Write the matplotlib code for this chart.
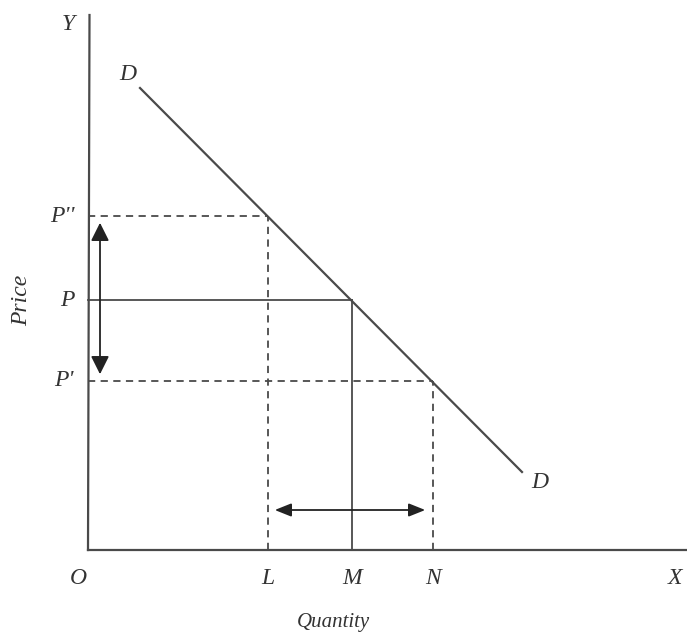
import matplotlib
matplotlib.use("Agg")
import matplotlib.pyplot as plt

# Data (units: quantity / price, origin at O)
demand_q = [5.2, 43.4]
demand_p = [46.2, 7.8]
prices = [33.4, 25.0, 16.9]          # P'', P, P'
quantities = [18.0, 26.4, 34.5]      # L, M, N
price_labels = ["P''", "P", "P'"]
qty_labels = ["L", "M", "N"]
price_styles = ["--", "-", "--"]

col = "#4a4a4a"
fig = plt.figure(figsize=(6.87, 6.36), dpi=100)
ax = fig.add_axes([0, 0, 1, 1])
ax.set_xlim(-8.8, 59.9)
ax.set_ylim(-8.6, 55.0)
ax.axis("off")

# Axes
ax.plot([0.15, 0], [53.5, 0], color=col, lw=1.6)
ax.plot([0, 59.9], [0, 0], color=col, lw=1.6)

# Demand curve
ax.plot(demand_q, demand_p, color=col, lw=1.6)

# Guide lines
for p, q, ls in zip(prices, quantities, price_styles):
    kw = dict(color=col, lw=1.3, ls=ls)
    if ls == "--":
        kw["dashes"] = (4, 3)
    ax.plot([0, q], [p, p], **kw)
    ax.plot([q, q], [0, p], **kw)

font = dict(family="Liberation Serif", style="italic", color="#333333", fontsize=17)

# Arrows
ax.annotate("", xy=(1.2, prices[0] - 0.4), xytext=(1.2, prices[2] + 0.4),
            arrowprops=dict(arrowstyle="<|-|>,head_length=0.5,head_width=0.25",
                            color="#222222", lw=1.3, mutation_scale=22))
ax.annotate("", xy=(quantities[0] + 0.4, 4.0), xytext=(quantities[2] - 0.5, 4.0),
            arrowprops=dict(arrowstyle="<|-|>,head_length=0.5,head_width=0.2",
                            color="#222222", lw=1.3, mutation_scale=20))

# Labels
ax.text(-2.0, 52.6, "Y", ha="center", va="center", **font)
ax.text(4.0, 47.5, "D", ha="center", va="center", **font)
ax.text(45.2, 6.8, "D", ha="center", va="center", **font)
for p, lab in zip(prices, price_labels):
    ax.text(-1.4, p, lab, ha="right", va="center", **font)
ax.text(-6.6, 25.0, "Price", ha="center", va="center", rotation=90, **font)
ax.text(-1.0, -2.8, "O", ha="center", va="center", **font)
for q, lab in zip(quantities, qty_labels):
    ax.text(q, -2.8, lab, ha="center", va="center", **font)
ax.text(58.7, -2.8, "X", ha="center", va="center", **font)
ax.text(24.5, -7.2, "Quantity", ha="center", va="center", **dict(font, fontsize=15))

fig.savefig("out.png", dpi=100)
